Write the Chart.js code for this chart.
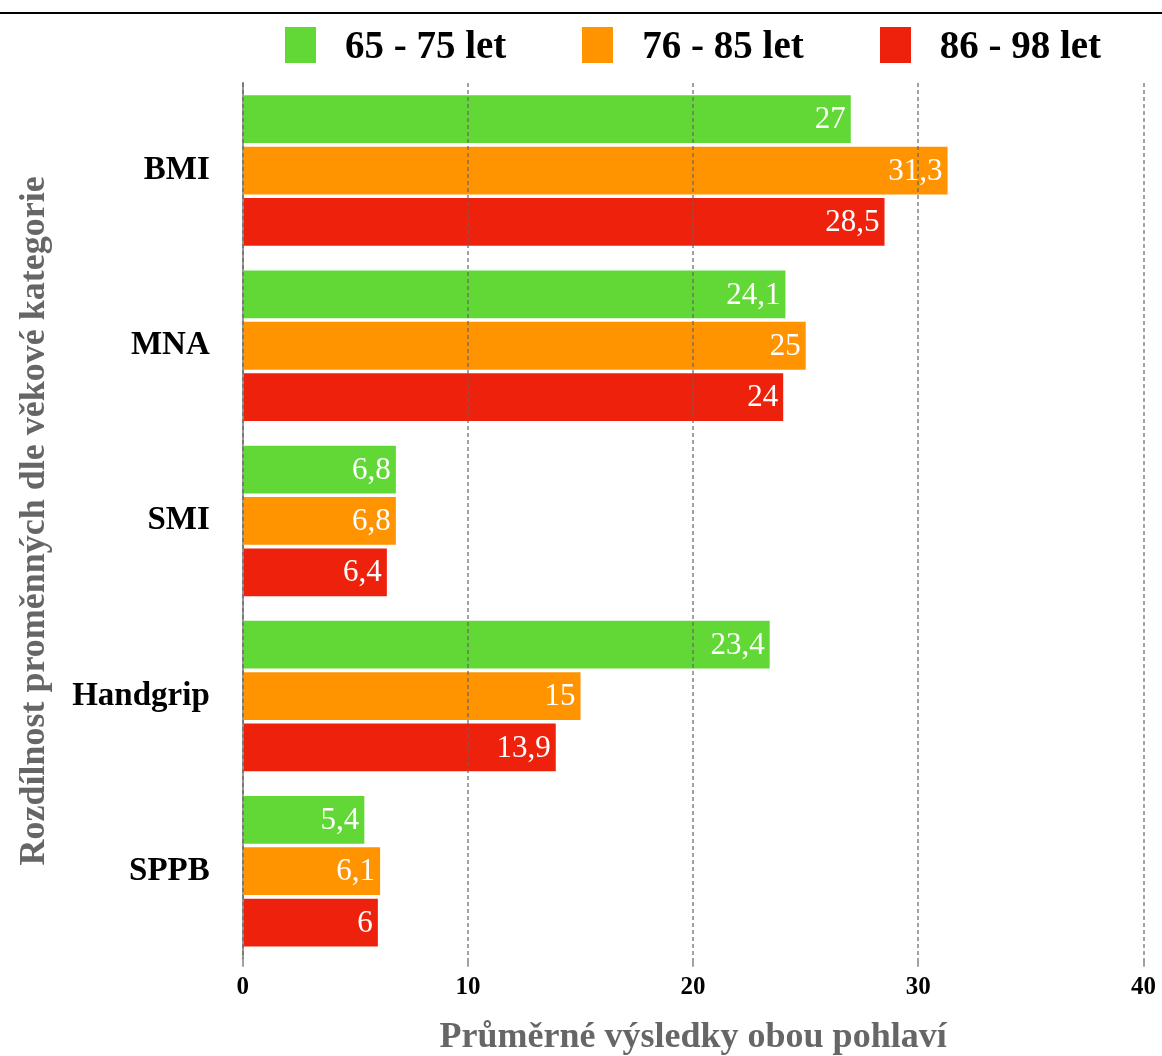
<!DOCTYPE html>
<html lang="cs">
<head>
<meta charset="utf-8">
<title>Průměrné výsledky dle věkové kategorie</title>
<script src="https://cdn.jsdelivr.net/npm/chart.js@4.4.1/dist/chart.umd.min.js"></script>
<style>
    html, body { margin: 0; padding: 0; background: #fff; overflow: hidden; }
    .page { position: relative; width: 1162px; height: 1056px; font-family: "Liberation Serif", serif; }
    .rule { position: absolute; left: 0; top: 12px; width: 100%; height: 2px; background: #000; }
    .graph-section { position: absolute; left: 0; top: 0; width: 1162px; height: 1056px; }
    .legend {
        position: absolute; left: 243px; top: 27px; width: 900px; height: 36px;
        display: flex; justify-content: center; align-items: center; gap: 76px;
        z-index: 1;
    }
    .legend-item { display: flex; align-items: center; }
    .legend-box { width: 31px; height: 36px; margin-right: 29px; }
    .legend-text { font-size: 39px; font-weight: bold; line-height: 36px; color: #000; white-space: nowrap; }
</style>
</head>
<body>
<div class="page">
    <div class="rule"></div>
    <div class="graph-section">
        <canvas id="ageGroupChart"></canvas>
    </div>
    <div class="legend" id="legend"></div>
</div>
<script>
// Measured variables
const categories = ['BMI', 'MNA', 'SMI', 'Handgrip', 'SPPB'];

// Averages per age group
const ageGroups = ['65 - 75 let', '76 - 85 let', '86 - 98 let'];
const group65to75 = [27, 24.1, 6.8, 23.4, 5.4];
const group76to85 = [31.3, 25, 6.8, 15, 6.1];
const group86to98 = [28.5, 24, 6.4, 13.9, 6];

const xTicks = [0, 10, 20, 30, 40];

const groupColors = ['#61d836', '#ff9300', '#ee220c'];

// Czech decimal comma
function formatValue(value) {
    return String(value).replace('.', ',');
}

// White value label at the inner end of each bar
const valueLabels = {
    id: 'valueLabels',
    afterDatasetsDraw(chart) {
        const ctx = chart.ctx;
        ctx.save();
        ctx.font = '31px "Liberation Serif", serif';
        ctx.fillStyle = '#ffffff';
        ctx.textAlign = 'right';
        ctx.textBaseline = 'middle';
        chart.data.datasets.forEach((dataset, i) => {
            chart.getDatasetMeta(i).data.forEach((bar, j) => {
                ctx.fillText(formatValue(dataset.data[j]), bar.x - 5, bar.y + 1);
            });
        });
        ctx.restore();
    }
};

Chart.defaults.font.family = '"Liberation Serif", serif';
Chart.defaults.color = '#000';

const datasets = [group65to75, group76to85, group86to98].map((values, i) => ({
    label: ageGroups[i],
    data: values,
    backgroundColor: groupColors[i],
    borderWidth: 0,
    barPercentage: 0.93,
    categoryPercentage: 0.88,
}));

const ctx = document.getElementById('ageGroupChart').getContext('2d');
const chart = new Chart(ctx, {
    type: 'bar',
    data: {
        labels: categories,
        datasets: datasets,
    },
    options: {
        indexAxis: 'y',
        responsive: true,
        maintainAspectRatio: false,
        animation: false,
        layout: {
            padding: { top: 83, right: 11, bottom: -3, left: 0 },
        },
        scales: {
            x: {
                min: xTicks[0],
                max: xTicks[xTicks.length - 1],
                afterBuildTicks: (scale) => {
                    scale.ticks = xTicks.map((v) => ({ value: v }));
                },
                grid: {
                    z: 1,
                    color: 'rgba(100, 100, 100, 0.6)',
                    lineWidth: 2,
                    tickLength: 8,
                },
                border: { display: false, dash: [4, 3] },
                ticks: {
                    padding: 6,
                    color: '#000',
                    font: { size: 25, weight: 'bold' },
                },
                title: {
                    display: true,
                    text: 'Průměrné výsledky obou pohlaví',
                    color: '#666',
                    font: { size: 36, weight: 'bold' },
                    padding: { top: 7, bottom: 0 },
                },
            },
            y: {
                grid: { display: false, drawTicks: false },
                border: { display: true, color: '#9a9a9a', width: 2 },
                ticks: {
                    padding: 33,
                    color: '#000',
                    font: { size: 33, weight: 'bold' },
                },
                title: {
                    display: true,
                    text: 'Rozdílnost proměnných dle věkové kategorie',
                    color: '#666',
                    font: { size: 36, weight: 'bold' },
                    padding: { top: 13, bottom: -17 },
                },
            },
        },
        plugins: {
            legend: { display: false },
            tooltip: { enabled: false },
        },
    },
    plugins: [valueLabels],
});

// Legend above the plot, built from the same series
const legendEl = document.getElementById('legend');
chart.data.datasets.forEach((ds) => {
    const item = document.createElement('div');
    item.className = 'legend-item';
    const box = document.createElement('span');
    box.className = 'legend-box';
    box.style.background = ds.backgroundColor;
    const text = document.createElement('span');
    text.className = 'legend-text';
    text.textContent = ds.label;
    item.appendChild(box);
    item.appendChild(text);
    legendEl.appendChild(item);
});
</script>
</body>
</html>
